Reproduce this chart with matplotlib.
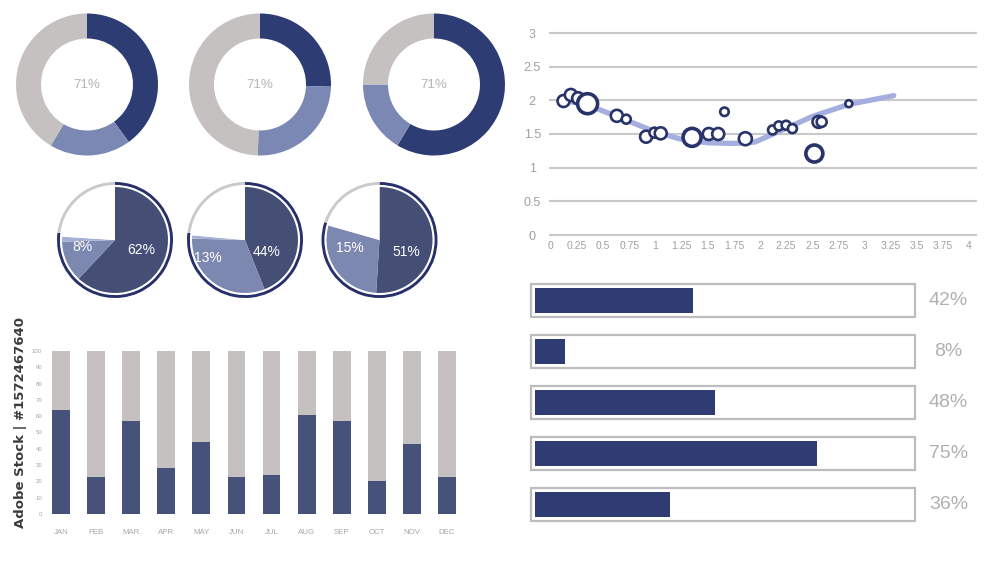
import matplotlib
matplotlib.use('Agg')
import matplotlib.pyplot as plt
import numpy as np

plt.rcParams['font.family'] = ['Liberation Sans', 'DejaVu Sans']

W, H = 1000, 562

# ---- data ----
# donuts: dark, light, gray (percent of circle)
donut_vals = [[40, 18.5, 41.5], [25.5, 25, 49.5], [58.6, 16.4, 25]]
donut_text = ['71%', '71%', '71%']

# pies: dark, light, pale sliver, empty
pie_vals = [[62, 12.5, 1.5, 24], [44, 31.4, 1, 23.6], [51, 28.4, 0, 20.6]]
pie_ring = [[77, 23], [77, 23], [80, 20]]
pie_labels = [['62%', '8%'], ['44%', '13%'], ['51%', '15%']]

months = ['JAN', 'FEB', 'MAR', 'APR', 'MAY', 'JUN', 'JUL', 'AUG', 'SEP', 'OCT', 'NOV', 'DEC']
month_vals = [64, 23, 57, 28, 44, 23, 24, 61, 57, 20, 43, 23]

sc_x = [0.12, 0.19, 0.26, 0.35, 0.63, 0.72, 0.91, 0.99, 1.05, 1.35, 1.51, 1.60, 1.66,
        1.86, 2.12, 2.18, 2.25, 2.31, 2.52, 2.56, 2.59, 2.85]
sc_y = [1.99, 2.08, 2.03, 1.95, 1.77, 1.72, 1.46, 1.52, 1.51, 1.45, 1.50, 1.50, 1.83,
        1.43, 1.56, 1.62, 1.63, 1.58, 1.21, 1.68, 1.68, 1.95]
sc_size = [12, 12, 12, 20, 12, 9, 12, 10, 12, 18, 12, 12, 8.5,
           13, 9, 9, 9, 9, 17, 12, 10, 7]
trend_x = [0.12, 0.35, 0.65, 1.0, 1.25, 1.5, 1.75, 1.95, 2.2, 2.5, 2.85, 3.28]
trend_y = [2.0, 1.93, 1.75, 1.53, 1.42, 1.37, 1.36, 1.38, 1.55, 1.76, 1.94, 2.07]
x_ticks = [0, 0.25, 0.5, 0.75, 1, 1.25, 1.5, 1.75, 2, 2.25, 2.5, 2.75, 3, 3.25, 3.5, 3.75, 4]
y_ticks = [0, 0.5, 1, 1.5, 2, 2.5, 3]

progress = [42, 8, 48, 75, 36]
progress_labels = ['42%', '8%', '48%', '75%', '36%']

# colours
navy = '#2d3c73'
light = '#7b88b4'
grey = '#c4c1c0'
pie_dark = '#454f76'
pie_light = '#7d88b0'
pie_pale = '#a6b0d4'
ring_navy = '#27306a'
txt_grey = '#a8a8a8'

fig = plt.figure(figsize=(10, 5.62), dpi=100)


def px_axes(x0, y0, x1, y1):
    # box in pixels, y from top
    return fig.add_axes([x0 / W, 1 - y1 / H, (x1 - x0) / W, (y1 - y0) / H])


# ---- donuts and pies on a pixel canvas ----
bg = fig.add_axes([0, 0, 1, 1])
donut_cx = [87, 260, 434]
for i in range(3):
    c = (donut_cx[i], H - 84.5)
    bg.pie(donut_vals[i], colors=[navy, light, grey], center=c, radius=71,
           startangle=90, counterclock=False, frame=True,
           wedgeprops=dict(width=25, edgecolor='none'))
    bg.text(c[0], c[1], donut_text[i], ha='center', va='center',
            fontsize=9.6, color='#b5b5b5')

pie_cx = [115, 245, 379.5]
lab_off = [[(26, 10), (-33, 7)], [(22, 12), (-37, 18)], [(26.5, 12), (-29.5, 8)]]
for i in range(3):
    c = (pie_cx[i], H - 240)
    bg.pie(pie_ring[i], colors=[ring_navy, '#cacaca'], center=c, radius=58,
           startangle=90, counterclock=False, frame=True,
           wedgeprops=dict(width=2.9, edgecolor='none'))
    bg.pie(pie_vals[i], colors=[pie_dark, pie_light, pie_pale, 'white'], center=c,
           radius=53, startangle=90, counterclock=False, frame=True,
           wedgeprops=dict(edgecolor='none'))
    for lab, (dx, dy) in zip(pie_labels[i], lab_off[i]):
        bg.text(c[0] + dx, c[1] - dy, lab, ha='center', va='center',
                fontsize=10, color='white')

bg.set_xlim(0, W)
bg.set_ylim(0, H)
bg.axis('off')

# ---- monthly stacked bars ----
ax1 = px_axes(43.5, 351, 464.5, 514)
xm = np.arange(len(months))
ax1.bar(xm, [100] * len(months), width=0.51, color=grey)
ax1.bar(xm, month_vals, width=0.51, color='#465279')
ax1.set_xlim(-0.5, 11.5)
ax1.set_ylim(0, 100)
ax1.set_yticks(np.arange(0, 101, 10))
ax1.set_xticks(xm)
ax1.set_xticklabels(months)
ax1.tick_params(axis='y', length=0, pad=1, labelsize=4.3, labelcolor=txt_grey)
ax1.tick_params(axis='x', length=0, pad=11, labelsize=5.7, labelcolor=txt_grey)
for s in ax1.spines.values():
    s.set_visible(False)

# ---- scatter ----
xl, yl = (-0.02, 4.08), (-0.03, 3.05)
sx = (969 - 551) / 4.0
sy = (235 - 33) / 3.0
ax2 = px_axes(551 + xl[0] * sx, 235 - yl[1] * sy, 551 + xl[1] * sx, 235 - yl[0] * sy)
ax2.plot(trend_x, trend_y, color='#a5aedf', lw=3.8, solid_capstyle='round', zorder=2)
d = np.array(sc_size)
ax2.scatter(sc_x, sc_y, s=(d * 0.72) ** 2, facecolor='white', edgecolor='#283469',
            linewidths=np.where(d >= 17, 2.6, 1.9), zorder=3)
ax2.set_xlim(xl)
ax2.set_ylim(yl)
ax2.set_xticks(x_ticks)
ax2.set_xticklabels([f'{v:g}' for v in x_ticks])
ax2.set_yticks(y_ticks)
ax2.set_yticklabels([f'{v:g}' for v in y_ticks])
ax2.grid(axis='y', color='#c9c9c9', lw=1.5)
ax2.set_axisbelow(True)
ax2.tick_params(axis='y', length=0, pad=12, labelsize=9, labelcolor='#a0a0a0')
for t in ax2.get_yticklabels():
    t.set_horizontalalignment('center')
ax2.tick_params(axis='x', length=0, pad=3, labelsize=7.5, labelcolor='#a0a0a0')
for s in ax2.spines.values():
    s.set_visible(False)

# ---- progress bars ----
px_u = (911 - 535) / 100.0
ax3 = px_axes(535 - 1.5 * px_u, 275, 535 + 101.5 * px_u, 530)
rows = np.arange(len(progress))
ax3.barh(rows, 102.1, left=-1.05, height=0.65, color='white',
         edgecolor='#bdbdbd', linewidth=1.6)
ax3.barh(rows, progress, height=0.49, color='#2f3c74')
for r, lab in zip(rows, progress_labels):
    ax3.text(110, r, lab, ha='center', va='center', fontsize=14,
             color='#b0b0b0', clip_on=False)
ax3.set_xlim(-1.5, 101.5)
ax3.set_ylim(4.5, -0.5)
ax3.axis('off')

# watermark strip on the left edge
fig.text(20.5 / W, 1 - 422 / H, 'Adobe Stock | #1572467640', rotation=90,
         ha='center', va='center', fontsize=9.5, fontweight='bold',
         family='DejaVu Sans', color='#3c3c3c')

fig.savefig('out.png', dpi=100)
